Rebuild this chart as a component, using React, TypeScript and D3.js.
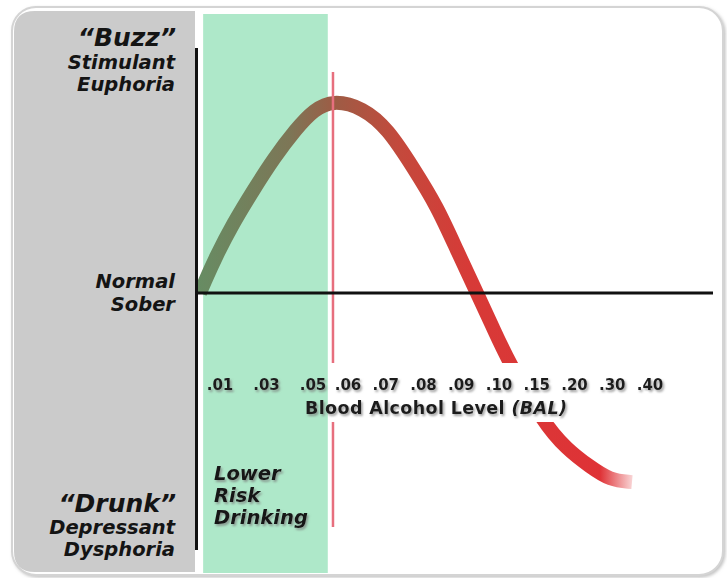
import React from "react";
import * as d3 from "d3";

// ---- data ----
const tickLabels = [".01", ".03", ".05", ".06", ".07", ".08", ".09", ".10", ".15", ".20", ".30", ".40"];
// curve: x in % of the BAL axis length, effect in [-1 (drunk) .. 1 (buzz)]
const curveX = [0.39, 1.17, 3.5, 6.8, 10.68, 14.76, 19.03, 22.52, 26.21, 32.04, 36.89, 41.75, 46.41, 50.29, 54.17, 57.28, 60.19, 66.99, 71.65, 76.12, 80.0, 84.27];
const curveEffect = [0, 0.05, 0.19, 0.36, 0.53, 0.7, 0.85, 0.95, 1.0, 0.96, 0.85, 0.65, 0.45, 0.22, 0.0, -0.18, -0.35, -0.67, -0.81, -0.9, -0.97, -0.98];
const lowerRiskBand = [1.0, 25.2]; // % of axis
const limitLine = 26.21; // % of axis
const buzzLabels = ["“Buzz”", "Stimulant", "Euphoria"];
const normalLabels = ["Normal", "Sober"];
const drunkLabels = ["“Drunk”", "Depressant", "Dysphoria"];
const lowerRiskLabels = ["Lower", "Risk", "Drinking"];
const axisTitle = "Blood Alcohol Level ";
const axisTitleAbbr = "(BAL)";

const W = 727;
const H = 578;
const FONT = "'DejaVu Sans', Verdana, sans-serif";

export default function App() {
  const x = d3.scaleLinear().domain([0, 100]).range([198, 713]);
  const y = d3.scaleLinear().domain([-1, 1]).range([486, 100]);
  // label slots: first three wider spaced
  const slot = d3.scaleLinear().domain([0, 2, 3, 11]).range([220, 313, 348, 650]);

  const pts: [number, number][] = curveX.map((cx, i) => [cx, curveEffect[i]]);
  const line = d3
    .line<[number, number]>()
    .x((d) => x(d[0]))
    .y((d) => y(d[1]))
    .curve(d3.curveBasis);

  const gx0 = x(0);
  const gx1 = x(86);
  const off = (px: number) => (px - gx0) / (gx1 - gx0);

  const frame = { x: 12, y: 7, w: 711, h: 568, r: 24 };
  const grayR = 21;
  const gx = 14, gy = 11, gw = 181, gh = 561;
  const grayPath = `M${gx + gw},${gy} L${gx + grayR},${gy} Q${gx},${gy} ${gx},${gy + grayR} L${gx},${gy + gh - grayR} Q${gx},${gy + gh} ${gx + grayR},${gy + gh} L${gx + gw},${gy + gh} Z`;

  const labelStyle: React.CSSProperties = {
    fontFamily: FONT,
    fontWeight: 700,
    fontStyle: "italic",
    fill: "#141414",
  };

  return (
    <svg width={W} height={H} style={{ position: "absolute", left: 0, top: 0, background: "#fff" }}>
      <defs>
        <linearGradient id="cg" gradientUnits="userSpaceOnUse" x1={gx0} x2={gx1} y1={0} y2={0}>
          <stop offset={0} stopColor="#678c63" />
          <stop offset={off(290)} stopColor="#7d7656" />
          <stop offset={off(334)} stopColor="#9d5c45" />
          <stop offset={off(400)} stopColor="#c4493c" />
          <stop offset={off(470)} stopColor="#d73a37" />
          <stop offset={off(600)} stopColor="#df3236" stopOpacity={1} />
          <stop offset={1} stopColor="#e03236" stopOpacity={0} />
        </linearGradient>
        <clipPath id="plotClip">
          <rect x={197} y={0} width={W - 197} height={H} />
        </clipPath>
        <filter id="ts" x="-20%" y="-60%" width="150%" height="220%">
          <feDropShadow dx="1.5" dy="2" stdDeviation="1.3" floodColor="#777" floodOpacity="0.7" />
        </filter>
        <filter id="fs" x="-5%" y="-5%" width="110%" height="110%">
          <feDropShadow dx="1.5" dy="1.5" stdDeviation="1.5" floodColor="#999" floodOpacity="0.6" />
        </filter>
      </defs>

      {/* frame */}
      <rect x={frame.x} y={frame.y} width={frame.w} height={frame.h} rx={frame.r} fill="#fff" stroke="#d4d4d4" strokeWidth={2} filter="url(#fs)" />

      {/* gray side panel */}
      <path d={grayPath} fill="#cbcbcb" />

      {/* lower risk band */}
      <rect x={x(lowerRiskBand[0])} y={14} width={x(lowerRiskBand[1]) - x(lowerRiskBand[0])} height={559} fill="#aee8c9" />

      {/* curve */}
      <path d={line(pts) || ""} fill="none" stroke="url(#cg)" strokeWidth={14} strokeLinecap="butt" clipPath="url(#plotClip)" />

      {/* limit line */}
      <line x1={x(limitLine)} x2={x(limitLine)} y1={72} y2={527} stroke="#e76f7e" strokeWidth={2.5} />

      {/* knockout behind axis labels */}
      <rect x={x(lowerRiskBand[1]) + 1} y={363} width={370} height={59} fill="#fff" />

      {/* axes */}
      <line x1={196.5} x2={196.5} y1={48} y2={550} stroke="#111" strokeWidth={3} />
      <line x1={196} x2={x(100)} y1={y(0)} y2={y(0)} stroke="#111" strokeWidth={3} />

      {/* tick labels */}
      <g filter="url(#ts)">
        {tickLabels.map((t, i) => (
          <text key={t} x={slot(i)} y={390} textAnchor="middle" style={{ fontFamily: FONT, fontWeight: 700, fontSize: 15, fill: "#1e1e1e" }}>
            {t}
          </text>
        ))}
        <text x={305} y={414} textLength={262} style={{ fontFamily: FONT, fontWeight: 700, fontSize: 17.5, fill: "#1e1e1e" }}>
          {axisTitle}
          <tspan style={{ fontStyle: "italic" }}>{axisTitleAbbr}</tspan>
        </text>
      </g>

      {/* left effect labels */}
      <g textAnchor="end" style={labelStyle}>
        <text x={176} y={46} fontSize={25}>{buzzLabels[0]}</text>
        <text x={175} y={69} fontSize={19.5}>{buzzLabels[1]}</text>
        <text x={175} y={91} fontSize={19.5}>{buzzLabels[2]}</text>
        <text x={175} y={288} fontSize={19.5}>{normalLabels[0]}</text>
        <text x={175} y={311} fontSize={19.5}>{normalLabels[1]}</text>
        <text x={176} y={512} fontSize={25}>{drunkLabels[0]}</text>
        <text x={175} y={534} fontSize={19.5}>{drunkLabels[1]}</text>
        <text x={175} y={556} fontSize={19.5}>{drunkLabels[2]}</text>
      </g>

      {/* lower risk label */}
      <g style={labelStyle} filter="url(#ts)">
        {lowerRiskLabels.map((t, i) => (
          <text key={t} x={214} y={480 + i * 22} fontSize={19.5}>{t}</text>
        ))}
      </g>
    </svg>
  );
}
